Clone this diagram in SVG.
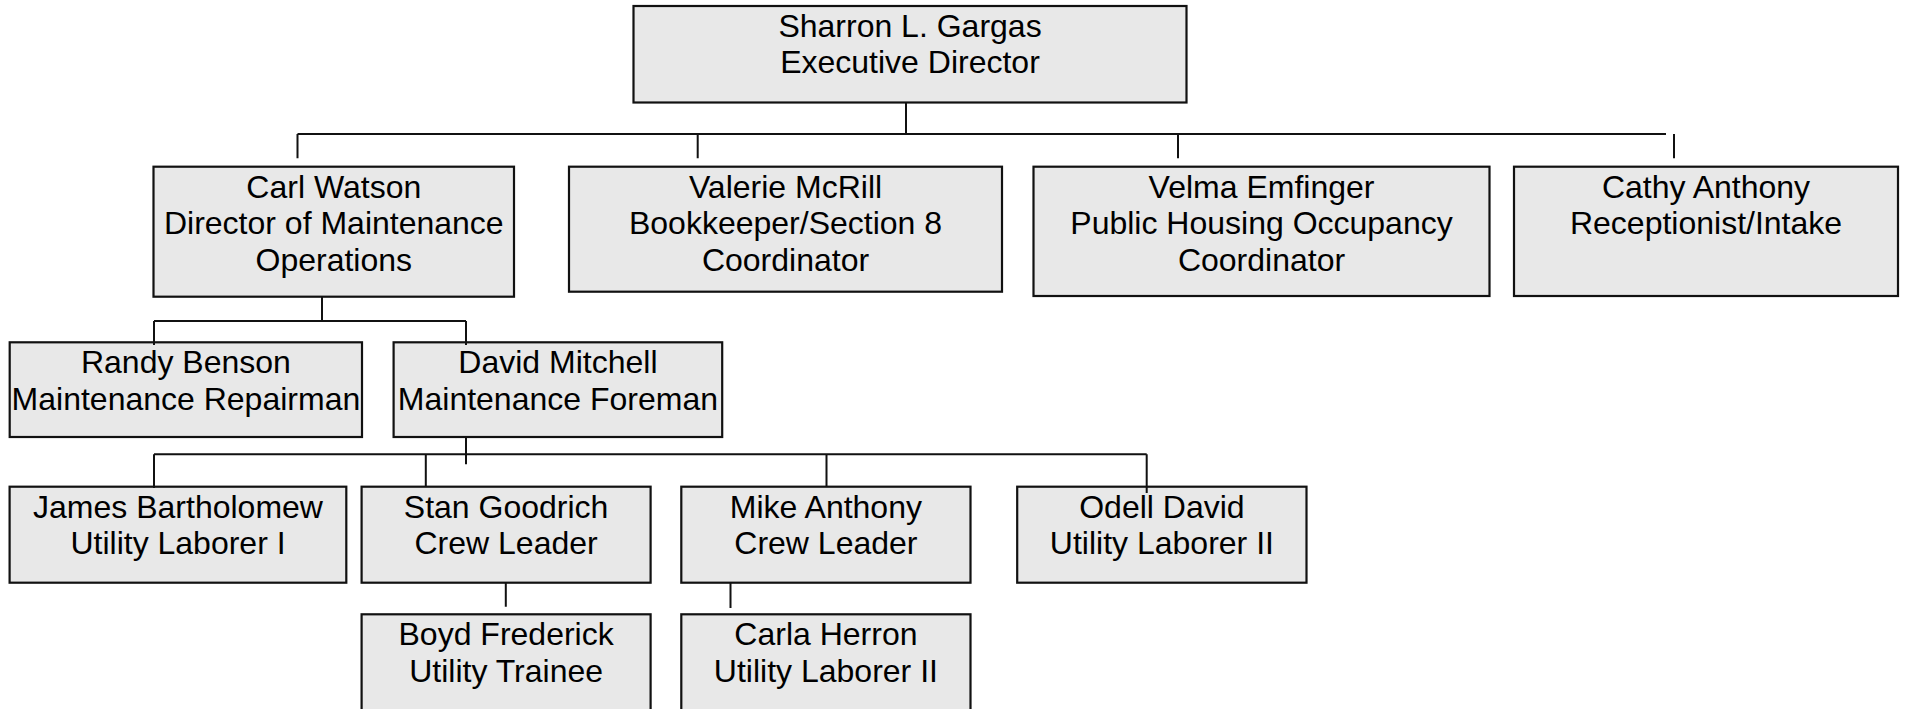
<svg xmlns="http://www.w3.org/2000/svg" width="1906" height="709" viewBox="0 0 1906 709">
<style>
rect.box{fill:#e8e8e8;stroke:#111;stroke-width:2.2}
text{font-family:"Liberation Sans",Arial,sans-serif;font-size:32px;fill:#000;text-anchor:middle}
.conn path{fill:none;stroke:#111;stroke-width:2}
</style>
<rect width="1906" height="709" fill="#fff"/>
<g id="exec"><rect class="box" x="633.5" y="6" width="553" height="96.5"/><text x="910" y="37">Sharron L. Gargas</text><text x="910" y="73">Executive Director</text></g>
<g id="carl"><rect class="box" x="153.5" y="166.7" width="360.5" height="130"/><text x="333.8" y="197.5">Carl Watson</text><text x="333.8" y="234">Director of Maintenance</text><text x="333.8" y="270.5">Operations</text></g>
<g id="valerie"><rect class="box" x="569" y="166.7" width="433" height="125"/><text x="785.5" y="197.5">Valerie McRill</text><text x="785.5" y="234">Bookkeeper/Section 8</text><text x="785.5" y="270.5">Coordinator</text></g>
<g id="velma"><rect class="box" x="1033.5" y="166.7" width="456" height="129.3"/><text x="1261.5" y="197.5">Velma Emfinger</text><text x="1261.5" y="234">Public Housing Occupancy</text><text x="1261.5" y="270.5">Coordinator</text></g>
<g id="cathy"><rect class="box" x="1514" y="166.7" width="384" height="129.3"/><text x="1706" y="197.5">Cathy Anthony</text><text x="1706" y="234">Receptionist/Intake</text></g>
<g id="randy"><rect class="box" x="9.7" y="342.3" width="352.3" height="94.7"/><text x="185.9" y="373.3">Randy Benson</text><text x="185.9" y="409.8">Maintenance Repairman</text></g>
<g id="david"><rect class="box" x="393.6" y="342.3" width="328.6" height="94.7"/><text x="557.9" y="373.3">David Mitchell</text><text x="557.9" y="409.8">Maintenance Foreman</text></g>
<g id="james"><rect class="box" x="9.6" y="486.7" width="336.7" height="96"/><text x="178" y="517.7">James Bartholomew</text><text x="178" y="554.2">Utility Laborer I</text></g>
<g id="stan"><rect class="box" x="361.6" y="486.7" width="289" height="96"/><text x="506.1" y="517.7">Stan Goodrich</text><text x="506.1" y="554.2">Crew Leader</text></g>
<g id="mike"><rect class="box" x="681.3" y="486.7" width="289.2" height="96"/><text x="825.9" y="517.7">Mike Anthony</text><text x="825.9" y="554.2">Crew Leader</text></g>
<g id="odell"><rect class="box" x="1017.2" y="486.7" width="289.3" height="96"/><text x="1161.9" y="517.7">Odell David</text><text x="1161.9" y="554.2">Utility Laborer II</text></g>
<g id="boyd"><rect class="box" x="361.6" y="614.3" width="289" height="100"/><text x="506.1" y="645.3">Boyd Frederick</text><text x="506.1" y="681.8">Utility Trainee</text></g>
<g id="carla"><rect class="box" x="681.3" y="614.3" width="289.2" height="100"/><text x="825.9" y="645.3">Carla Herron</text><text x="825.9" y="681.8">Utility Laborer II</text></g>
<g id="connectors" class="conn">
<path d="M906 102.5V134M297.5 134H1666M297.5 134V158.3M697.7 134V158.3M1178 134V158.3M1674 134V158.3"/>
<path d="M322 296.7V321M154 321H466M154 321V345M466 321V345"/>
<path d="M466 437V464.3M154 454.3H1146.7M154 454.3V488M425.8 454.3V487M826.5 454.3V486.7M1146.7 454.3V493"/>
<path d="M505.8 582.7V606.7M730.5 582.7V608"/>
</g>
</svg>
